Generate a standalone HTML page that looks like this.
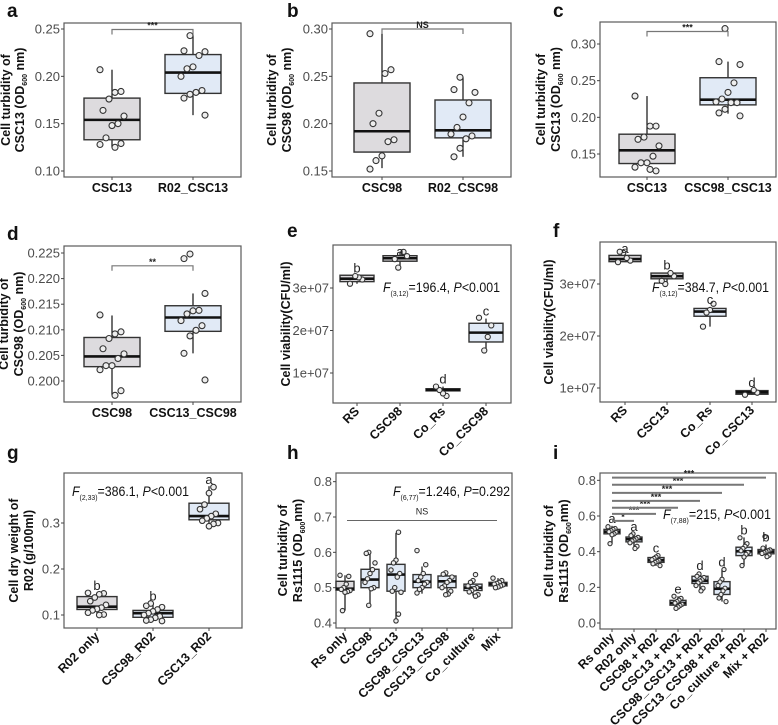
<!DOCTYPE html>
<html><head><meta charset="utf-8"><style>
html,body{margin:0;padding:0;background:#fff;}
svg{display:block;font-family:"Liberation Sans",sans-serif;}
</style></head><body>
<svg id="fig" width="778" height="725" viewBox="0 0 778 725"></svg>
<script>
// ---------- DATA ----------
const aCats=["CSC13","R02_CSC13"];
const aBox=[[0.125,0.133,0.154,0.177,0.207],[0.159,0.182,0.204,0.223,0.243]];
const aPts=[[0.207,0.184,0.183,0.176,0.164,0.158,0.150,0.148,0.135,0.128,0.129,0.125],[0.243,0.227,0.226,0.222,0.210,0.208,0.200,0.185,0.183,0.181,0.177,0.159]];
const aTicks=[0.10,0.15,0.20,0.25];
const aTickLabels=["0.10","0.15","0.20","0.25"];

const bCats=["CSC98","R02_CSC98"];
const bBox=[[0.153,0.170,0.192,0.243,0.295],[0.165,0.185,0.193,0.225,0.249]];
const bPts=[[0.295,0.257,0.253,0.211,0.200,0.183,0.181,0.166,0.161,0.152],[0.249,0.236,0.233,0.222,0.207,0.196,0.189,0.187,0.184,0.174,0.165]];
const bTicks=[0.15,0.20,0.25,0.30];
const bTickLabels=["0.15","0.20","0.25","0.30"];

const cCats=["CSC13","CSC98_CSC13"];
const cBox=[[0.137,0.137,0.155,0.177,0.229],[0.205,0.217,0.224,0.254,0.276]];
const cPts=[[0.229,0.188,0.188,0.173,0.170,0.161,0.147,0.138,0.138,0.132,0.127,0.129],[0.321,0.276,0.272,0.247,0.234,0.225,0.221,0.220,0.220,0.211,0.206,0.202]];
const cTicks=[0.15,0.20,0.25,0.30];
const cTickLabels=["0.15","0.20","0.25","0.30"];

const dCats=["CSC98","CSC13_CSC98"];
const dBox=[[0.1973,0.2028,0.2048,0.2085,0.2128],[0.2054,0.2097,0.2124,0.2147,0.2171]];
const dPts=[[0.2129,0.2096,0.2092,0.2083,0.2063,0.2053,0.2044,0.2030,0.2030,0.2022,0.1981,0.1972],[0.2248,0.2239,0.2171,0.2138,0.2137,0.2131,0.2118,0.2108,0.2099,0.2088,0.2054,0.2002]];
const dTicks=[0.200,0.205,0.210,0.215,0.220,0.225];
const dTickLabels=["0.200","0.205","0.210","0.215","0.220","0.225"];

const eCats=["RS","CSC98","Co_Rs","Co_CSC98"];
const eBox=[[3.10e7,3.15e7,3.22e7,3.30e7,3.30e7],[3.50e7,3.63e7,3.70e7,3.76e7,3.85e7],[0.45e7,0.58e7,0.60e7,0.63e7,0.68e7],[1.55e7,1.73e7,1.95e7,2.17e7,2.28e7]];
const ePts=[[3.10e7,3.20e7,3.25e7,3.28e7],[3.48e7,3.68e7,3.75e7,3.85e7],[0.46e7,0.52e7,0.60e7,0.68e7],[2.30e7,2.12e7,1.85e7,1.53e7]];
const eLetters=["b","a","d","c"];
const eTicks=[1e7,2e7,3e7];
const eTickLabels=["1e+07","2e+07","3e+07"];

const fCats=["RS","CSC13","Co_Rs","Co_CSC13"];
const fBox=[[3.42e7,3.43e7,3.48e7,3.55e7,3.62e7],[3.00e7,3.10e7,3.15e7,3.21e7,3.22e7],[2.18e7,2.38e7,2.47e7,2.53e7,2.56e7],[0.87e7,0.88e7,0.92e7,0.95e7,0.96e7]];
const fPts=[[3.42e7,3.45e7,3.50e7,3.60e7,3.62e7],[3.00e7,3.06e7,3.15e7,3.21e7],[2.62e7,2.50e7,2.45e7,2.18e7],[0.87e7,0.91e7,0.96e7]];
const fLetters=["a","b","c","d"];
const fTicks=[1e7,2e7,3e7];
const fTickLabels=["1e+07","2e+07","3e+07"];

const gCats=["R02 only","CSC98_R02","CSC13_R02"];
const gBox=[[0.100,0.112,0.118,0.140,0.148],[0.087,0.095,0.104,0.110,0.125],[0.293,0.307,0.315,0.343,0.380]];
const gPts=[[0.148,0.147,0.145,0.138,0.130,0.122,0.116,0.113,0.110,0.105,0.101,0.100],[0.125,0.120,0.117,0.112,0.108,0.104,0.100,0.097,0.094,0.090,0.088,0.087],[0.378,0.365,0.340,0.330,0.320,0.315,0.310,0.305,0.300,0.298,0.293]];
const gLetters=["b","b","a"];
const gTicks=[0.1,0.2,0.3];
const gTickLabels=["0.1","0.2","0.3"];

const hCats=["Rs only","CSC98","CSC13","CSC98_CSC13","CSC13_CSC98","Co_culture","Mix"];
const hBox=[[0.435,0.493,0.497,0.518,0.535],[0.450,0.500,0.523,0.552,0.598],[0.405,0.490,0.537,0.566,0.655],[0.483,0.500,0.517,0.537,0.560],[0.480,0.500,0.518,0.533,0.542],[0.477,0.492,0.500,0.510,0.522],[0.500,0.505,0.510,0.515,0.527]];
const hPts=[[0.535,0.532,0.510,0.500,0.495,0.492,0.489,0.487,0.435],[0.600,0.597,0.570,0.551,0.540,0.525,0.515,0.500,0.497,0.450],[0.657,0.578,0.570,0.550,0.540,0.530,0.500,0.490,0.487,0.425,0.406],[0.605,0.565,0.540,0.530,0.520,0.515,0.510,0.500,0.495,0.485],[0.542,0.538,0.530,0.520,0.515,0.505,0.500,0.490,0.482,0.480],[0.537,0.520,0.515,0.505,0.500,0.497,0.492,0.488,0.480,0.476],[0.527,0.520,0.515,0.512,0.510,0.508,0.505,0.502,0.500]];
const hTicks=[0.4,0.5,0.6,0.7,0.8];
const hTickLabels=["0.4","0.5","0.6","0.7","0.8"];

const iCats=["Rs only","R02 only","CSC98 + R02","CSC13 + R02","CSC98_CSC13 + R02","CSC13_CSC98 + R02","Co_culture + R02","Mix + R02"];
const iBox=[[0.445,0.500,0.512,0.525,0.545],[0.420,0.455,0.470,0.482,0.500],[0.320,0.340,0.352,0.367,0.378],[0.080,0.100,0.112,0.127,0.150],[0.180,0.222,0.237,0.262,0.280],[0.120,0.160,0.192,0.232,0.300],[0.320,0.378,0.402,0.425,0.480],[0.370,0.388,0.400,0.412,0.440]];
const iPts=[[0.540,0.530,0.525,0.518,0.512,0.508,0.500,0.495,0.445],[0.500,0.490,0.480,0.472,0.465,0.460,0.450,0.430,0.418],[0.378,0.370,0.362,0.355,0.350,0.345,0.340,0.332,0.322],[0.150,0.138,0.128,0.120,0.112,0.105,0.098,0.090,0.082],[0.275,0.262,0.255,0.242,0.235,0.225,0.210,0.195,0.180],[0.300,0.245,0.230,0.210,0.195,0.180,0.160,0.140,0.120],[0.478,0.445,0.430,0.418,0.405,0.395,0.385,0.370,0.322],[0.485,0.420,0.410,0.405,0.400,0.395,0.390,0.380,0.372]];
const iLetters=["a","a","c","e","d","d","b","b"];
const iSigTargets=[1,2,3,4,5,6,7];
const iSigLevels=[0.573,0.612,0.646,0.685,0.730,0.775,0.815];
const iSigLabels=["*","***","***","***","***","***","***"];
const iTicks=[0.0,0.2,0.4,0.6,0.8];
const iTickLabels=["0.0","0.2","0.4","0.6","0.8"];

// ---------- DRAWING ----------
const NS="http://www.w3.org/2000/svg";
const svg=document.getElementById('fig');
function mk(tag,attrs,parent,txt){const e=document.createElementNS(NS,tag);for(const k in attrs)e.setAttribute(k,attrs[k]);if(txt!==undefined)e.textContent=txt;(parent||svg).appendChild(e);return e;}

function panel(p){
  const g=mk('g',{});
  
  
  const y=v=>p.pA+(v-p.vA)*(p.pB-p.pA)/(p.vB-p.vA);
  const x=i=>p.cx[i];
  const L=mk('text',{x:p.lx,y:p.ly,'font-size':19,'font-weight':'bold',fill:'#111'},g,p.id);
  
  
  const fr=mk('rect',{x:p.x0,y:p.y0,width:p.x1-p.x0,height:p.y1-p.y0,fill:'none',stroke:'#5a5a5a','stroke-width':1.2},g);
  
  
  p.ticks.forEach((t,k)=>{
    const yy=y(t);
    mk('line',{x1:p.x0-3,x2:p.x0,y1:yy,y2:yy,stroke:'#444'},g);
    const tl=mk('text',{x:p.x0-4,y:yy+4.5,'font-size':13,fill:'#4d4d4d','text-anchor':'end'},g,p.tickLabels[k]);
    
    
  });
  const ym=(p.y0+p.y1)/2;
  p.ytitle.forEach((ln,k)=>{
    const tx=p.x0-p.tOff[k];
    const t=mk('text',{transform:`translate(${tx},${ym}) rotate(-90)`,'font-size':12.5,'font-weight':'bold','text-anchor':'middle',fill:'#111'},g);
    
    
    ln.forEach(seg=>{mk('tspan',seg.sub?{'font-size':7,dy:3}:{dy:seg.back?-3:0},t,seg.t);});
  });
  p.cats.forEach((c,i)=>{
    const cx=x(i);
    mk('line',{x1:cx,x2:cx,y1:p.y1,y2:p.y1+3,stroke:'#444'},g);
    let t;
    if(p.rot){
      t=mk('text',{transform:`translate(${cx+3},${p.y1+9}) rotate(-45)`,'font-size':12.5,'font-weight':'bold','text-anchor':'end',fill:'#111'},g,c);
    }else{
      t=mk('text',{x:cx,y:p.y1+15,'font-size':12.5,'font-weight':'bold','text-anchor':'middle',fill:'#111'},g,c);
    }
    
    
    const b=p.box[i];
    const hw=p.hw;
    const fill=(p.grey.indexOf(i)>=0)?'#dddbde':'#e1eaf6';
    const wl=mk('line',{x1:cx,x2:cx,y1:y(b[0]),y2:y(b[4]),stroke:'#222','stroke-width':1.3},g);
    
    
    const r=mk('rect',{x:cx-hw,y:y(b[3]),width:2*hw,height:Math.max(1,y(b[1])-y(b[3])),fill:fill,stroke:'#333','stroke-width':1.4},g);
    
    
    const md=mk('line',{x1:cx-hw,x2:cx+hw,y1:y(b[2]),y2:y(b[2]),stroke:'#111','stroke-width':2.6},g);
    
    
    p.pts[i].forEach((v,j)=>{
      const jit=(((j*7+i*3)%9)-4)/4*p.jw;
      const pt=mk('circle',{cx:cx+jit,cy:y(v),r:p.pr,fill:'#eeeeee',stroke:'#333','stroke-width':1.1},g);
      
      
    });
    if(p.letters){
      const ly=Math.max(p.y0+11,y(b[4])-3);
      const lt=mk('text',{x:cx,y:ly,'font-size':13,'text-anchor':'middle',fill:'#222'},g,p.letters[i]);
      
      
    }
  });
  if(p.sig){
    const by=y(p.sig.v);
    const br=mk('path',{d:`M${x(0)},${by+5}V${by}H${x(1)}V${by+5}`,fill:'none',stroke:'#777','stroke-width':1.2},g);
    
    
    const st=mk('text',{x:(x(0)+x(1))/2,y:by-1,'font-size':9,'font-weight':'bold','text-anchor':'middle',fill:'#222'},g,p.sig.t);
    
    
  }
  if(p.F){
    const t=mk('text',{x:p.F.x,y:p.F.y,'font-size':13.5,fill:'#111',textLength:p.F.w,lengthAdjust:'spacingAndGlyphs'},g);
    
    
    mk('tspan',{'font-style':'italic'},t,'F');
    mk('tspan',{'font-size':7.5,dy:4},t,p.F.df);
    mk('tspan',{dy:-4},t,'='+p.F.val+', ');
    mk('tspan',{'font-style':'italic'},t,'P');
    mk('tspan',{},t,p.F.p);
  }
  return {g,y,x};
}
const od=(name)=>[[{t:'Cell turbidity of'}],[{t:name+' (OD'},{t:'600',sub:true},{t:' nm)',back:true}]];

panel({id:'a',lx:7,ly:17,x0:64,x1:241,y0:23,y1:177,vA:0.25,pA:29,vB:0.10,pB:171,ticks:aTicks,tickLabels:aTickLabels,cats:aCats,cx:[112,193],box:aBox,pts:aPts,hw:28,jw:12,pr:3,grey:[0],ytitle:od('CSC13'),tOff:[54,40],sig:{v:0.2495,t:'***'}});
panel({id:'b',lx:287,ly:17,x0:332,x1:511,y0:23,y1:177,vA:0.30,pA:29,vB:0.15,pB:171,ticks:bTicks,tickLabels:bTickLabels,cats:bCats,cx:[382,463],box:bBox,pts:bPts,hw:28,jw:12,pr:3,grey:[0],ytitle:od('CSC98'),tOff:[56,41],sig:{v:0.30,t:'NS'}});
panel({id:'c',lx:553,ly:17,x0:600,x1:776,y0:22,y1:177,vA:0.30,pA:44,vB:0.15,pB:154,ticks:cTicks,tickLabels:cTickLabels,cats:cCats,cx:[647,728],box:cBox,pts:cPts,hw:28,jw:12,pr:3,grey:[0],ytitle:od('CSC13'),tOff:[55,40],sig:{v:0.317,t:'***'}});
panel({id:'d',lx:7,ly:240,x0:64,x1:241,y0:246,y1:402,vA:0.225,pA:253,vB:0.200,pB:381,ticks:dTicks,tickLabels:dTickLabels,cats:dCats,cx:[112,193],box:dBox,pts:dPts,hw:28,jw:12,pr:3,grey:[0],ytitle:od('CSC98'),tOff:[56,41],sig:{v:0.2225,t:'**'}});
panel({id:'e',lx:287,ly:237,x0:333,x1:511,y0:245,y1:403,vA:3e7,pA:288,vB:1e7,pB:373,ticks:eTicks,tickLabels:eTickLabels,cats:eCats,cx:[357,400,443,486],box:eBox,pts:ePts,hw:17,jw:7,pr:2.6,grey:[0,1],letters:eLetters,ytitle:[[{t:'Cell viability(CFU/ml)'}]],tOff:[43],rot:true,F:{x:383,y:292,w:117,df:'(3,12)',val:'196.4',p:'<0.001'}});
panel({id:'f',lx:553,ly:237,x0:600,x1:776,y0:242,y1:402,vA:3e7,pA:284,vB:1e7,pB:388,ticks:fTicks,tickLabels:fTickLabels,cats:fCats,cx:[625,667,710,752],box:fBox,pts:fPts,hw:16,jw:7,pr:2.6,grey:[0,1],letters:fLetters,ytitle:[[{t:'Cell viability(CFU/ml)'}]],tOff:[47],rot:true,F:{x:652,y:292,w:117,df:'(3,12)',val:'384.7',p:'<0.001'}});
panel({id:'g',lx:7,ly:459,x0:64,x1:242,y0:473,y1:628,vA:0.3,pA:523,vB:0.1,pB:615,ticks:gTicks,tickLabels:gTickLabels,cats:gCats,cx:[97,153,209],box:gBox,pts:gPts,hw:20,jw:9,pr:2.8,grey:[0],letters:gLetters,ytitle:[[{t:'Cell dry weight of'}],[{t:'R02 (g/100ml)'}]],tOff:[46,31],rot:true,F:{x:72,y:496,w:117,df:'(2,33)',val:'386.1',p:'<0.001'}});
const H=panel({id:'h',lx:287,ly:459,x0:336,x1:512,y0:473,y1:628,vA:0.7,pA:517,vB:0.4,pB:623,ticks:hTicks,tickLabels:hTickLabels,cats:hCats,cx:[345,370,396,422,447,473,498],box:hBox,pts:hPts,hw:9,jw:5,pr:2.2,grey:[0],ytitle:[[{t:'Cell turbidity of'}],[{t:'Rs1115 (OD'},{t:'600',sub:true},{t:'nm)',back:true}]],tOff:[49,34],rot:true,F:{x:393,y:496,w:117,df:'(6,77)',val:'1.246',p:'=0.292'}});
{
  const ns=mk('line',{x1:347,x2:497,y1:H.y(0.69),y2:H.y(0.69),stroke:'#666','stroke-width':1});
  
  
  const nt=mk('text',{x:422,y:H.y(0.69)-6,'font-size':9,'text-anchor':'middle',fill:'#222'},svg,'NS');
  
  
}
const I=panel({id:'i',lx:553,ly:459,x0:600,x1:776,y0:473,y1:629,vA:0.6,pA:516,vB:0.0,pB:623,ticks:iTicks,tickLabels:iTickLabels,cats:iCats,cx:[612,634,656,678,700,722,744,766],box:iBox,pts:iPts,hw:8,jw:4,pr:2.1,grey:[0],letters:iLetters,ytitle:[[{t:'Cell turbidity of'}],[{t:'Rs1115 (OD'},{t:'600',sub:true},{t:'nm)',back:true}]],tOff:[47,32],rot:true,F:{x:663,y:519,w:108,df:'(7,88)',val:'215',p:'<0.001'}});
iSigTargets.forEach((t,k)=>{
  const yy=I.y(iSigLevels[k]);
  const l=mk('line',{x1:I.x(0),x2:I.x(t),y1:yy,y2:yy,stroke:'#777','stroke-width':2});
  
  
  const s=mk('text',{x:(I.x(0)+I.x(t))/2,y:yy-1,'font-size':9,'font-weight':'bold','text-anchor':'middle',fill:'#222'},svg,iSigLabels[k]);
  
  
});
</script>
</body></html>
